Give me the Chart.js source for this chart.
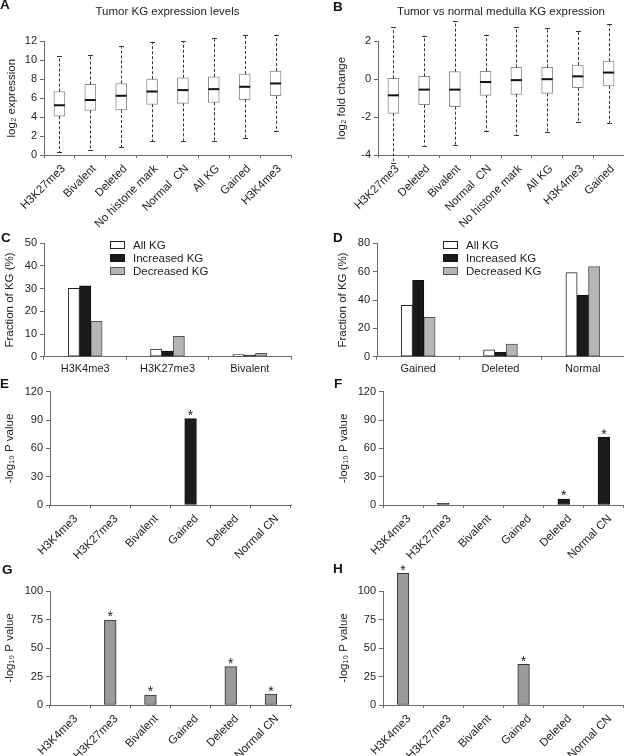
<!DOCTYPE html>
<html>
<head>
<meta charset="utf-8">
<script src="https://cdn.jsdelivr.net/npm/chart.js@4.4.1/dist/chart.umd.min.js"></script>
<style>
  body { margin: 0; background: #fff; width: 624px; height: 756px; position: relative; overflow: hidden; }
  canvas { position: absolute; }
  .tag { position: absolute; font: bold 13.5px/1 "Liberation Sans", Arial, sans-serif; color: #111; }
</style>
</head>
<body>
<canvas id="chartA" width="312" height="235" style="left:0;top:0"></canvas>
<canvas id="chartB" width="312" height="235" style="left:312px;top:0"></canvas>
<canvas id="chartC" width="312" height="148" style="left:0;top:232px"></canvas>
<canvas id="chartD" width="312" height="148" style="left:312px;top:232px"></canvas>
<canvas id="chartE" width="312" height="190" style="left:0;top:380px"></canvas>
<canvas id="chartF" width="312" height="190" style="left:312px;top:380px"></canvas>
<canvas id="chartG" width="312" height="186" style="left:0;top:570px"></canvas>
<canvas id="chartH" width="312" height="206" style="left:312px;top:550px"></canvas>
<div class="tag" style="left:0;top:-1.8px">A</div>
<div class="tag" style="left:333px;top:-0.3px">B</div>
<div class="tag" style="left:1px;top:231.2px">C</div>
<div class="tag" style="left:333px;top:231.2px">D</div>
<div class="tag" style="left:0;top:377.2px">E</div>
<div class="tag" style="left:334px;top:377.2px">F</div>
<div class="tag" style="left:2px;top:563.2px">G</div>
<div class="tag" style="left:333px;top:562.2px">H</div>
<script>
// A: tumour KG expression (box plots)
const boxLabelsA = ["H3K27me3", "Bivalent", "Deleted", "No histone mark", "Normal  CN", "All KG", "Gained", "H3K4me3"];
const lowA  = [0.3, 0.5, 0.85, 1.45, 1.5, 1.5, 1.8, 2.5];
const q1A   = [4.1, 4.7, 4.75, 5.35, 5.45, 5.55, 5.85, 6.25];
const medA  = [5.25, 5.8, 6.25, 6.7, 6.85, 6.95, 7.2, 7.55];
const q3A   = [6.7, 7.45, 7.55, 8.0, 8.15, 8.25, 8.55, 8.85];
const highA = [10.45, 10.6, 11.5, 11.95, 12.05, 12.3, 12.7, 12.7];

// B: tumour vs normal medulla (box plots)
const boxLabelsB = ["H3K27me3", "Deleted", "Bivalent", "Normal  CN", "No histone mark", "All KG", "H3K4me3", "Gained"];
const lowB  = [-4.4, -3.5, -3.45, -2.75, -2.95, -2.8, -2.25, -2.3];
const q1B   = [-1.8, -1.35, -1.45, -0.85, -0.8, -0.75, -0.45, -0.35];
const medB  = [-0.85, -0.55, -0.55, -0.15, -0.05, 0, 0.15, 0.35];
const q3B   = [0.05, 0.15, 0.4, 0.42, 0.62, 0.62, 0.75, 0.95];
const highB = [2.75, 2.3, 3.05, 2.35, 2.75, 2.7, 2.55, 2.9];

// C: fraction of KG by histone mark
const markLabels = ["H3K4me3", "H3K27me3", "Bivalent"];
const allKgC = [30.1, 3.4, 0.9];
const incKgC = [31.2, 2.5, 0.7];
const decKgC = [15.6, 9.0, 1.5];

// D: fraction of KG by copy number
const cnLabels = ["Gained", "Deleted", "Normal"];
const allKgD = [36.2, 4.9, 59.3];
const incKgD = [53.9, 3.1, 43.5];
const decKgD = [27.8, 8.9, 63.5];

// E-H: -log10 P values
const enrichLabels = ["H3K4me3", "H3K27me3", "Bivalent", "Gained", "Deleted", "Normal CN"];
const pvalE = [0, 0, 0, 91.4, 0, 0];
const starE = [0, 0, 0, 1, 0, 0];
const pvalF = [0, 1.8, 0, 0, 6.4, 72];
const starF = [0, 0, 0, 0, 1, 1];
const pvalG = [0, 74.6, 8.8, 0, 33.6, 9.6];
const starG = [0, 1, 1, 0, 1, 1];
const pvalH = [115.5, 0, 0, 35.7, 0, 0];
const starH = [1, 0, 0, 1, 0, 0];

const FONT = '"Liberation Sans", Arial, sans-serif';
const AXIS = '#6a6a6a';
const INK = '#222';

Chart.defaults.font.family = FONT;
Chart.defaults.font.size = 11;
Chart.defaults.color = INK;
Chart.defaults.animation = false;
Chart.defaults.plugins.legend.display = false;
Chart.defaults.plugins.tooltip.enabled = false;

// whiskers + medians on top of the floating [q1, q3] bars
const whiskers = {
  id: 'whiskers',
  afterDatasetsDraw(chart) {
    const ds = chart.data.datasets[0];
    if (!ds.medians) return;
    const meta = chart.getDatasetMeta(0);
    const y = chart.scales.y;
    const ctx = chart.ctx;
    ctx.save();
    meta.data.forEach((bar, i) => {
      const x = Math.round(bar.x) + 0.5;
      const half = bar.width / 2;
      const [q1, q3] = ds.data[i];
      const yHi = y.getPixelForValue(ds.highs[i]);
      const yLo = y.getPixelForValue(ds.lows[i]);
      ctx.strokeStyle = '#333';
      ctx.lineWidth = 1;
      ctx.setLineDash([3, 2]);
      ctx.beginPath();
      ctx.moveTo(x, y.getPixelForValue(q3));
      ctx.lineTo(x, yHi);
      ctx.moveTo(x, y.getPixelForValue(q1));
      ctx.lineTo(x, yLo);
      ctx.stroke();
      ctx.setLineDash([]);
      ctx.beginPath();
      ctx.moveTo(x - 2.5, Math.round(yHi) + 0.5);
      ctx.lineTo(x + 2.5, Math.round(yHi) + 0.5);
      ctx.moveTo(x - 2.5, Math.round(yLo) + 0.5);
      ctx.lineTo(x + 2.5, Math.round(yLo) + 0.5);
      ctx.stroke();
      const ym = y.getPixelForValue(ds.medians[i]);
      ctx.strokeStyle = '#111';
      ctx.lineWidth = 2;
      ctx.beginPath();
      ctx.moveTo(bar.x - half, ym);
      ctx.lineTo(bar.x + half, ym);
      ctx.stroke();
    });
    ctx.restore();
  }
};

// significance asterisks
const stars = {
  id: 'stars',
  afterDatasetsDraw(chart) {
    const ctx = chart.ctx;
    chart.data.datasets.forEach((ds, d) => {
      if (!ds.stars) return;
      const meta = chart.getDatasetMeta(d);
      ctx.save();
      ctx.font = '14px ' + FONT;
      ctx.fillStyle = INK;
      ctx.textAlign = 'center';
      ctx.textBaseline = 'alphabetic';
      meta.data.forEach((bar, i) => {
        if (ds.stars[i]) ctx.fillText('*', bar.x, bar.y + 1.5);
      });
      ctx.restore();
    });
  }
};

// small key inside the plot area (C, D)
const keyBox = {
  id: 'keyBox',
  afterDraw(chart, args, opts) {
    if (!opts.show) return;
    const ctx = chart.ctx;
    const {left, top} = chart.chartArea;
    ctx.save();
    ctx.font = '11.5px ' + FONT;
    ctx.textBaseline = 'middle';
    chart.data.datasets.forEach((ds, i) => {
      const cy = Math.round(top + opts.dy + i * opts.step);
      const bx = Math.round(left + opts.dx);
      ctx.fillStyle = ds.backgroundColor;
      ctx.fillRect(bx, cy - 4, 15, 8);
      ctx.strokeStyle = ds.borderColor;
      ctx.lineWidth = 1;
      ctx.strokeRect(bx + 0.5, cy - 3.5, 14, 7);
      ctx.fillStyle = INK;
      ctx.fillText(ds.label, left + opts.tx, cy + 0.5);
    });
    ctx.restore();
  }
};

Chart.register(whiskers, stars, keyBox);

function yAxis(min, max, step, text, width, titlePad) {
  return {
    min: min,
    max: max,
    border: { color: AXIS },
    grid: { drawOnChartArea: false, color: AXIS, tickLength: 4 },
    ticks: { stepSize: step, padding: 3, color: INK, font: { size: 11 } },
    title: { display: true, text: text, color: INK, font: { size: 11.5 }, padding: { top: titlePad, bottom: 0 } },
    afterFit(s) { s.width = width; }
  };
}

function xAxis(height, rotated, shift) {
  return {
    border: { color: AXIS },
    grid: { drawOnChartArea: false, color: AXIS, tickLength: 3, offset: true },
    ticks: {
      autoSkip: false,
      maxRotation: rotated ? 45 : 0,
      minRotation: rotated ? 45 : 0,
      padding: rotated ? 4 : 3,
      labelOffset: shift,
      color: INK,
      font: { size: rotated ? 11.5 : 11 }
    },
    afterFit(s) { s.height = height; }
  };
}

const noZero = (c) => (c.raw ? 1 : 0);

function boxChart(id, labels, lows, q1s, meds, q3s, highs, yOpts, title, pad, xHeight) {
  new Chart(document.getElementById(id), {
    type: 'bar',
    data: {
      labels: labels,
      datasets: [{
        data: q1s.map((v, i) => [v, q3s[i]]),
        lows: lows,
        medians: meds,
        highs: highs,
        backgroundColor: '#fff',
        borderColor: '#8c8c8c',
        borderWidth: 1,
        borderSkipped: false,
        barThickness: 11
      }]
    },
    options: {
      responsive: false,
      layout: { padding: pad },
      plugins: {
        title: {
          display: true, text: title, fullSize: false, color: INK,
          font: { size: 11.5, weight: 'normal' },
          padding: { top: 5, bottom: 22.5 }
        }
      },
      scales: { x: xAxis(xHeight, true, 4), y: yOpts }
    }
  });
}

boxChart('chartA', boxLabelsA, lowA, q1A, medA, q3A, highA,
  yAxis(0, 12, 2, 'log\u2082 expression', 44, 5), 'Tumor KG expression levels',
  { left: 0, right: 21, top: 0, bottom: 0 }, 80);

boxChart('chartB', boxLabelsB, lowB, q1B, medB, q3B, highB,
  yAxis(-4, 2, 2, 'log\u2082 fold change', 66, 23), 'Tumor vs normal medulla KG expression',
  { left: 0, right: 0, top: 0, bottom: 0 }, 80);

function groupChart(id, labels, all, inc, dec, yOpts, pad) {
  new Chart(document.getElementById(id), {
    type: 'bar',
    data: {
      labels: labels,
      datasets: [
        { label: 'All KG', data: all, backgroundColor: '#ffffff', borderColor: '#222' },
        { label: 'Increased KG', data: inc, backgroundColor: '#1a1a1a', borderColor: '#111' },
        { label: 'Decreased KG', data: dec, backgroundColor: '#b5b5b5', borderColor: '#555' }
      ]
    },
    options: {
      responsive: false,
      layout: { padding: pad },
      datasets: { bar: { barThickness: 11.3, borderWidth: 1, borderSkipped: false } },
      plugins: { keyBox: { show: true, dx: 66, tx: 89, dy: 2, step: 12.6 } },
      scales: { x: xAxis(23.3, false, 0), y: yOpts }
    }
  });
}

groupChart('chartC', markLabels, allKgC, incKgC, decKgC,
  yAxis(0, 50, 10, 'Fraction of KG (%)', 44, 3), { left: 0, right: 21, top: 11.3, bottom: 0 });
groupChart('chartD', cnLabels, allKgD, incKgD, decKgD,
  yAxis(0, 80, 20, 'Fraction of KG (%)', 65, 24), { left: 0, right: 0, top: 11.3, bottom: 0 });

function pChart(id, values, marks, fill, edge, yOpts, pad, xHeight) {
  new Chart(document.getElementById(id), {
    type: 'bar',
    data: {
      labels: enrichLabels,
      datasets: [{
        data: values,
        stars: marks,
        backgroundColor: (c) => (c.raw ? fill : 'rgba(0,0,0,0)'),
        borderColor: edge,
        borderWidth: noZero,
        borderSkipped: false,
        barThickness: 11.7,
        clip: false
      }]
    },
    options: {
      responsive: false,
      layout: { padding: pad },
      scales: { x: xAxis(xHeight, true, 6), y: yOpts }
    }
  });
}

const pTitle = '-log\u2081\u2080 P value';
pChart('chartE', pvalE, starE, '#1c1c1c', '#111', yAxis(0, 120, 30, pTitle, 50, 3),
  { left: 0, right: 21, top: 11.7, bottom: 0 }, 65);
pChart('chartF', pvalF, starF, '#1c1c1c', '#111', yAxis(0, 120, 30, pTitle, 71, 24.5),
  { left: 0, right: 0, top: 11.7, bottom: 0 }, 65);
pChart('chartG', pvalG, starG, '#9a9a9a', '#333', yAxis(0, 100, 25, pTitle, 50, 3),
  { left: 0, right: 21, top: 21, bottom: 0 }, 51);
pChart('chartH', pvalH, starH, '#9a9a9a', '#333', yAxis(0, 100, 25, pTitle, 71, 24.5),
  { left: 0, right: 0, top: 41, bottom: 0 }, 51);
</script>
</body>
</html>
